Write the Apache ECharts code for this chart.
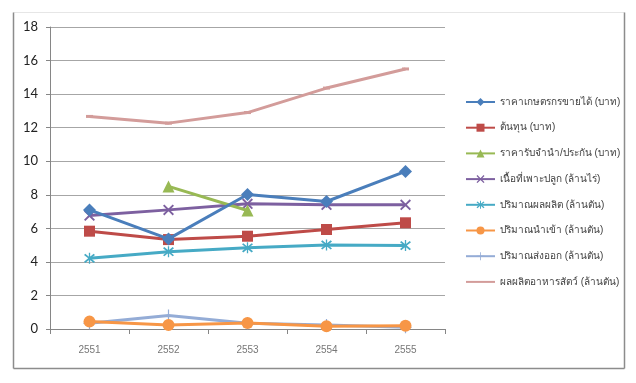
<!DOCTYPE html>
<html><head><meta charset="utf-8">
<script src="https://cdn.jsdelivr.net/npm/echarts@6/dist/echarts.min.js"></script>
<style>html,body{margin:0;padding:0;background:#fff}#c{width:636px;height:383px}</style>
</head><body><div id="c"></div>
<script>
const categories = ['2551','2552','2553','2554','2555'];
const yTicks = [0,2,4,6,8,10,12,14,16,18];
const names = ['ราคาเกษตรกรขายได้ (บาท)','ต้นทุน (บาท)','ราคารับจำนำ/ประกัน (บาท)','เนื้อที่เพาะปลูก (ล้านไร่)','ปริมาณผลผลิต (ล้านตัน)','ปริมาณนำเข้า (ล้านตัน)','ปริมาณส่งออก (ล้านตัน)','ผลผลิตอาหารสัตว์ (ล้านตัน)'];
const farmPrice = [7.1, 5.37, 8.02, 7.6, 9.39];
const cost = [5.83, 5.33, 5.53, 5.93, 6.33];
const pledgePrice = [null, 8.5, 7.06, null, null];
const plantedArea = [6.76, 7.1, 7.46, 7.4, 7.4];
const production = [4.21, 4.61, 4.84, 5.01, 4.97];
const imports = [0.44, 0.24, 0.36, 0.16, 0.2];
const exportsQ = [0.34, 0.8, 0.34, 0.24, 0.1];
const feedProduction = [12.67, 12.27, 12.9, 14.36, 15.5];

const colors = ['#4A7EBB','#BE4B48','#98B954','#7D60A0','#46AAC5','#F79646','#94ACD6','#D39C9A'];
const X = 'path://M0,1.2 L1.2,0 L5,3.8 L8.8,0 L10,1.2 L6.2,5 L10,8.8 L8.8,10 L5,6.2 L1.2,10 L0,8.8 L3.8,5 Z';
const STAR = 'path://M0,1.2 L1.2,0 L5,3.8 L8.8,0 L10,1.2 L6.2,5 L10,8.8 L8.8,10 L5,6.2 L1.2,10 L0,8.8 L3.8,5 Z M4.4,-1 L5.6,-1 L5.6,11 L4.4,11 Z';
const PLUS = 'path://M4.5,0 L5.5,0 L5.5,4.5 L10,4.5 L10,5.5 L5.5,5.5 L5.5,10 L4.5,10 L4.5,5.5 L0,5.5 L0,4.5 L4.5,4.5 Z';
const dataSets = [farmPrice, cost, pledgePrice, plantedArea, production, imports, exportsQ, feedProduction];
const symbols = ['diamond','rect','triangle',X,STAR,'circle',PLUS,'rect'];
const sizes = [13,11,12,11,11,12,12,[7,3]];

const chart = echarts.init(document.getElementById('c'));
chart.setOption({
  animation:false,
  color: colors,
  grid:{left:50,right:191,top:27,bottom:54},
  legend:{
    orient:'vertical', left:460, top:92, itemWidth:29, itemHeight:10, itemGap:15.7,
    textStyle:{fontSize:10,color:'#404040',fontFamily:'Tahoma, sans-serif'},
    data: names.map((n,i)=> i===7 ? {name:n, itemStyle:{opacity:0}} : n)
  },
  xAxis:{
    type:'category', data:categories, boundaryGap:true,
    axisLine:{lineStyle:{color:'#868686',width:1}},
    axisTick:{show:true,length:5,lineStyle:{color:'#868686'}},
    axisLabel:{color:'#777',fontSize:10,margin:16,fontFamily:'Tahoma, sans-serif'}
  },
  yAxis:{
    type:'value', min:yTicks[0], max:yTicks[yTicks.length-1], interval:2,
    axisLine:{show:true,lineStyle:{color:'#868686',width:1}},
    axisTick:{show:true,length:4,lineStyle:{color:'#868686'}},
    splitLine:{lineStyle:{color:'#a6a6a6',width:1.2}},
    axisLabel:{color:'#222',fontSize:13,margin:12,fontFamily:'Lato, sans-serif'}
  },
  graphic:[
    {type:'line',shape:{x1:13.5,y1:12.5,x2:624.5,y2:12.5},style:{stroke:'#e6e6e6',lineWidth:1}},
    {type:'line',shape:{x1:13.5,y1:12.5,x2:13.5,y2:368.5},style:{stroke:'#8c8c8c',lineWidth:1.5}},
    {type:'line',shape:{x1:624.5,y1:12.5,x2:624.5,y2:368.5},style:{stroke:'#8c8c8c',lineWidth:1.5}},
    {type:'line',shape:{x1:13.5,y1:368.5,x2:624.5,y2:368.5},style:{stroke:'#8c8c8c',lineWidth:1.5}}
  ],
  series: names.map((n,i)=>({
    name:n, type:'line', data:dataSets[i], symbol:symbols[i], symbolSize:sizes[i],
    lineStyle:{width:3, color:colors[i]}, itemStyle:{color:colors[i]},
    connectNulls:false, z: 10-i
  }))
});
</script></body></html>
